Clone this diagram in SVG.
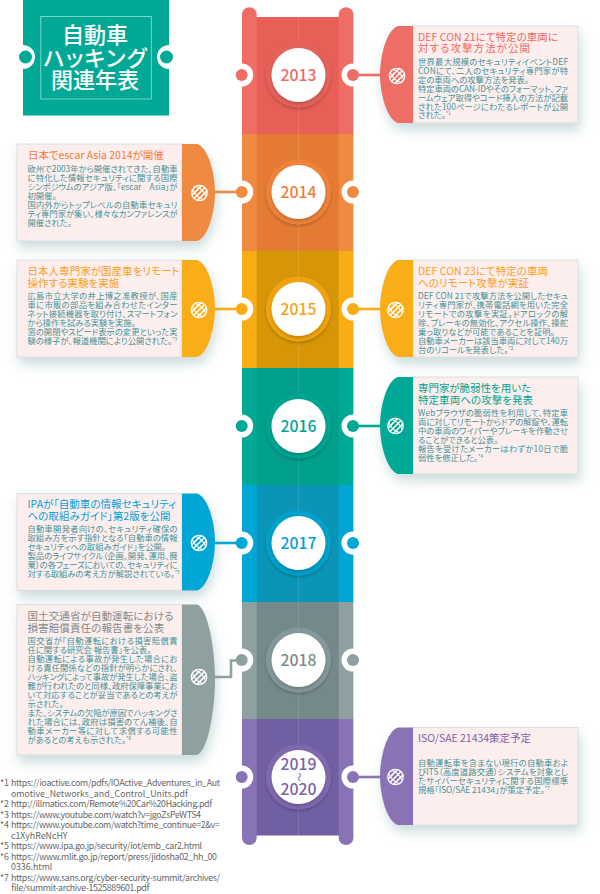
<svg xmlns="http://www.w3.org/2000/svg" xmlns:xlink="http://www.w3.org/1999/xlink" width="600" height="894" viewBox="0 0 600 894">
<style>
text{font-family:"Noto Sans CJK JP","Noto Sans",sans-serif;font-feature-settings:"palt"}
.h{font-size:10.5px}
.b{font-size:8.3px;fill:#3f9397}
.f{font-size:8.8px;fill:#666}
.y{font-size:15.8px;font-weight:500;text-anchor:middle}
.t{font-size:22px;font-weight:500;fill:#fff;text-anchor:middle}
.card{fill:#fdeeee;stroke:#d3dbdb;stroke-width:.8}
.sup{font-size:5px}
.k{fill:#fff}
.c{fill:none;stroke-width:2.6}
.red{fill:#ee6e66}.ors{fill:#f08a40}.amb{fill:#f9ad14}.tea{fill:#00a995}.blu{fill:#00a7d6}.gry{fill:#8ea09f}.pur{fill:#8a73b5}
.tred{fill:#ef6a62}.tors{fill:#f27c3a}.tamb{fill:#f9a01b}.ttea{fill:#00a58f}.tblu{fill:#00a0d8}.tgry{fill:#7f8a8a}.tpur{fill:#7a62a8}
</style>
<defs>
<filter id="sh" x="-20%" y="-20%" width="140%" height="150%"><feDropShadow dx="2" dy="7" stdDeviation="6" flood-color="#6f9c9c" flood-opacity=".35"/></filter>
<filter id="rs" x="-20%" y="-20%" width="140%" height="140%"><feDropShadow dx="0" dy="2" stdDeviation="1.500" flood-color="#000" flood-opacity=".2"/></filter>
<clipPath id="gc"><circle r="8.200"/></clipPath>
<g id="globe" fill="none" stroke="#fff">
<circle r="7.700" stroke-width="1.300"/>
<g clip-path="url(#gc)" transform="rotate(-45)" stroke-width="1">
<ellipse rx="3.800" ry="8.200"/>
<path d="M-8.200-3.800H8.200M-8.200 0H8.200M-8.200 3.800H8.200" stroke-width="1.600"/>
</g>
</g>
</defs>

<g id="column">
<rect x="256" y="17" width="84" height="117" fill="#e75f56"/>
<rect x="256" y="134" width="84" height="117" fill="#e57a33"/>
<rect x="256" y="251" width="84" height="117" fill="#d69608"/>
<rect x="256" y="368" width="84" height="117" fill="#00a08d"/>
<rect x="256" y="485" width="84" height="117" fill="#0a95b8"/>
<rect x="256" y="602" width="84" height="117" fill="#76898a"/>
<rect x="256" y="719" width="84" height="116.500" fill="#7060a3"/>
<path d="M298.500 17V835.500" stroke="#fff" stroke-opacity=".12" stroke-width="1"/>
<path d="M242 134V14.500a7.300 7.300 0 0 1 14.700 0V134Z" class="red"/>
<path d="M338.700 134V14.500a7.300 7.300 0 0 1 14.700 0V134Z" class="red"/>
<rect x="242" y="134" width="14.700" height="117" class="ors"/><rect x="338.700" y="134" width="14.700" height="117" class="ors"/>
<rect x="242" y="251" width="14.700" height="117" class="amb"/><rect x="338.700" y="251" width="14.700" height="117" class="amb"/>
<rect x="242" y="368" width="14.700" height="117" class="tea"/><rect x="338.700" y="368" width="14.700" height="117" class="tea"/>
<rect x="242" y="485" width="14.700" height="117" class="blu"/><rect x="338.700" y="485" width="14.700" height="117" class="blu"/>
<rect x="242" y="602" width="14.700" height="117" class="gry"/><rect x="338.700" y="602" width="14.700" height="117" class="gry"/>
<path d="M242 719V837.700a7.300 7.300 0 0 0 14.700 0V719Z" class="pur"/>
<path d="M338.700 719V837.700a7.300 7.300 0 0 0 14.700 0V719Z" class="pur"/>
</g>

<g id="title">
<rect x="23" y="0" width="146" height="115.500" fill="#00a896"/>
<rect x="40.800" y="16.500" width="110.500" height="82.500" fill="none" stroke="#fff" stroke-opacity=".55" stroke-width=".9"/>
<circle cx="23" cy="57" r="12" class="k"/><circle cx="25.500" cy="57" r="6.500" class="tea"/>
<circle cx="169" cy="57" r="12" class="k"/><circle cx="166.500" cy="57" r="6.500" class="tea"/>
<text class="t" x="95" y="43">自動車</text>
<text class="t" x="95" y="65.500" textLength="103" lengthAdjust="spacing">ハッキング</text>
<text class="t" x="95" y="88">関連年表</text>
</g>

<g id="y2013"><circle cx="241.700" cy="75" r="11.500" class="k"/><circle cx="241.700" cy="75" r="6" class="red"/><circle cx="353" cy="75" r="11.500" class="k"/><circle cx="353" cy="75" r="6" class="red"/><circle cx="298.500" cy="75" r="32.500" fill="#e4625b" filter="url(#rs)"/><circle cx="298.500" cy="75" r="27" class="k" filter="url(#rs)"/><text class="y tred" x="298.500" y="81">2013</text></g>
<g id="y2014"><circle cx="241.700" cy="192" r="11.500" class="k"/><circle cx="241.700" cy="192" r="6" class="ors"/><circle cx="353" cy="192" r="11.500" class="k"/><circle cx="353" cy="192" r="6" class="ors"/><circle cx="298.500" cy="192" r="32.500" fill="#ec8338" filter="url(#rs)"/><circle cx="298.500" cy="192" r="27" class="k" filter="url(#rs)"/><text class="y tors" x="298.500" y="198">2014</text></g>
<g id="y2015"><circle cx="241.700" cy="309" r="11.500" class="k"/><circle cx="241.700" cy="309" r="6" class="amb"/><circle cx="353" cy="309" r="11.500" class="k"/><circle cx="353" cy="309" r="6" class="amb"/><circle cx="298.500" cy="309" r="32.500" fill="#efa310" filter="url(#rs)"/><circle cx="298.500" cy="309" r="27" class="k" filter="url(#rs)"/><text class="y tamb" x="298.500" y="315">2015</text></g>
<g id="y2016"><circle cx="241.700" cy="426" r="11.500" class="k"/><circle cx="241.700" cy="426" r="6" class="tea"/><circle cx="353" cy="426" r="11.500" class="k"/><circle cx="353" cy="426" r="6" class="tea"/><circle cx="298.500" cy="426" r="32.500" fill="#00a592" filter="url(#rs)"/><circle cx="298.500" cy="426" r="27" class="k" filter="url(#rs)"/><text class="y ttea" x="298.500" y="432">2016</text></g>
<g id="y2017"><circle cx="241.700" cy="543" r="11.500" class="k"/><circle cx="241.700" cy="543" r="6" class="blu"/><circle cx="353" cy="543" r="11.500" class="k"/><circle cx="353" cy="543" r="6" class="blu"/><circle cx="298.500" cy="543" r="32.500" fill="#03a1cb" filter="url(#rs)"/><circle cx="298.500" cy="543" r="27" class="k" filter="url(#rs)"/><text class="y tblu" x="298.500" y="549">2017</text></g>
<g id="y2018"><circle cx="241.700" cy="660" r="11.500" class="k"/><circle cx="241.700" cy="660" r="6" class="gry"/><circle cx="353" cy="660" r="11.500" class="k"/><circle cx="353" cy="660" r="6" class="gry"/><circle cx="298.500" cy="660" r="32.500" fill="#84979a" filter="url(#rs)"/><circle cx="298.500" cy="660" r="27" class="k" filter="url(#rs)"/><text class="y tgry" x="298.500" y="666">2018</text></g>
<g id="y2019"><circle cx="241.700" cy="777" r="11.500" class="k"/><circle cx="241.700" cy="777" r="6" class="pur"/><circle cx="353" cy="777" r="11.500" class="k"/><circle cx="353" cy="777" r="6" class="pur"/><circle cx="298.500" cy="777" r="32.500" fill="#8068ad" filter="url(#rs)"/><circle cx="298.500" cy="777" r="27" class="k" filter="url(#rs)"/><text class="y tpur" x="298.500" y="769.500">2019</text><text class="y tpur" x="298.500" y="780" transform="rotate(90 298.500 777)" style="font-size:8.500px">〜</text><text class="y tpur" x="298.500" y="795">2020</text></g>

<g id="connectors">
<path class="c" stroke="#ee6e66" d="M353 75H382"/>
<path class="c" stroke="#f08a40" d="M213 192H242"/>
<path class="c" stroke="#f9ad14" d="M213 309H242"/>
<path class="c" stroke="#f9ad14" d="M353 309H382"/>
<path class="c" stroke="#00a995" d="M353 426H382"/>
<path class="c" stroke="#00a7d6" d="M213 543H242"/>
<path class="c" stroke="#8ea09f" d="M213 677H231V660.500H242"/>
<path class="c" stroke="#8a73b5" d="M353 777H382"/>
</g>

<g id="card2013">
<g filter="url(#sh)"><rect class="card" x="413" y="26" width="165" height="97"/><path class="red" d="M413 26H398C387 29 380 55 380 74.500C380 94 387 120 398 123H413Z"/></g>
<use xlink:href="#globe" href="#globe" x="397" y="76"/>
<text class="h tred" x="418" y="41" textLength="140">DEF CON 21にて特定の車両に</text>
<text class="h tred" x="418" y="52" textLength="112">対する攻撃方法が公開</text>
<text class="b" x="418" y="65" textLength="150">世界最大規模のセキュリティイベントDEF</text>
<text class="b" x="418" y="73.900" textLength="150">CONにて、二人のセキュリティ専門家が特</text>
<text class="b" x="418" y="82.800">定の車両への攻撃方法を発表。</text>
<text class="b" x="418" y="91.700" textLength="150">特定車両のCAN-IDやそのフォーマット、ファ</text>
<text class="b" x="418" y="100.600" textLength="150">ームウェア取得やコード挿入の方法が記載</text>
<text class="b" x="418" y="109.500" textLength="150">された100ページにわたるレポートが公開</text>
<text class="b" x="418" y="118.400">された。<tspan class="sup" dy="-3">*1</tspan></text>
</g>

<g id="card2014">
<g filter="url(#sh)"><rect class="card" x="17" y="144" width="165" height="97"/><path class="ors" d="M182 144H197C208 147 215 173 215 192.500C215 212 208 238 197 241H182Z"/></g>
<use xlink:href="#globe" href="#globe" x="199.500" y="193"/>
<text class="h tors" x="28" y="159" textLength="135.700">日本でescar Asia 2014が開催</text>
<text class="b" x="27.500" y="171.500" textLength="150">欧州で2003年から開催されてきた、自動車</text>
<text class="b" x="27.500" y="180.500" textLength="150">に特化した情報セキュリティに関する国際</text>
<text class="b" x="27.500" y="189.500" textLength="150">シンポジウムのアジア版、「escar　Asia」が</text>
<text class="b" x="27.500" y="198.500">初開催。</text>
<text class="b" x="27.500" y="207.500" textLength="150">国内外からトップレベルの自動車セキュリ</text>
<text class="b" x="27.500" y="216.500" textLength="150">ティ専門家が集い、様々なカンファレンスが</text>
<text class="b" x="27.500" y="225.500">開催された。</text>
</g>

<g id="card2015a">
<g filter="url(#sh)"><rect class="card" x="17" y="260" width="165" height="97"/><path class="amb" d="M182 260H197C208 263 215 289 215 308.500C215 328 208 354 197 357H182Z"/></g>
<use xlink:href="#globe" href="#globe" x="199" y="310"/>
<text class="h tamb" x="27.500" y="275" textLength="152">日本人専門家が国産車をリモート</text>
<text class="h tamb" x="27.500" y="286.500" textLength="91.700">操作する実験を実施</text>
<text class="b" x="27.500" y="299" textLength="150">広島市立大学の井上博之准教授が、国産</text>
<text class="b" x="27.500" y="308" textLength="150">車に市販の部品を組み合わせたインター</text>
<text class="b" x="27.500" y="317" textLength="150">ネット接続機器を取り付け、スマートフォン</text>
<text class="b" x="27.500" y="326">から操作を試みる実験を実施。</text>
<text class="b" x="27.500" y="335" textLength="150">窓の開閉やスピード表示の変更といった実</text>
<text class="b" x="27.500" y="344">験の様子が、報道機関により公開された。<tspan class="sup" dy="-3">*3</tspan></text>
</g>

<g id="card2015b">
<g filter="url(#sh)"><rect class="card" x="413" y="260" width="165" height="97"/><path class="amb" d="M413 260H398C387 263 380 289 380 308.500C380 328 387 354 398 357H413Z"/></g>
<use xlink:href="#globe" href="#globe" x="395.500" y="310"/>
<text class="h tamb" x="418" y="275" textLength="130">DEF CON 23にて特定の車両</text>
<text class="h tamb" x="418" y="286.500" textLength="111">へのリモート攻撃が実証</text>
<text class="b" x="418" y="299" textLength="150">DEF CON 21で攻撃方法を公開したセキュ</text>
<text class="b" x="418" y="308" textLength="150">リティ専門家が、携帯電話網を用いた完全</text>
<text class="b" x="418" y="317" textLength="150">リモートでの攻撃を実証。ドアロックの解</text>
<text class="b" x="418" y="326" textLength="150">除、ブレーキの無効化、アクセル操作、操舵</text>
<text class="b" x="418" y="335">乗っ取りなどが可能であることを証明。</text>
<text class="b" x="418" y="344" textLength="150">自動車メーカーは該当車両に対して140万</text>
<text class="b" x="418" y="353">台のリコールを発表した。<tspan class="sup" dy="-3">*2</tspan></text>
</g>

<g id="card2016">
<g filter="url(#sh)"><rect class="card" x="413" y="377" width="165" height="97"/><path class="tea" d="M413 377H398C387 380 380 406 380 425.500C380 445 387 471 398 474H413Z"/></g>
<use xlink:href="#globe" href="#globe" x="395.500" y="426"/>
<text class="h ttea" x="418" y="392" textLength="113">専門家が脆弱性を用いた</text>
<text class="h ttea" x="418" y="403.500" textLength="115">特定車両への攻撃を発表</text>
<text class="b" x="418" y="416" textLength="150">Webブラウザの脆弱性を利用して、特定車</text>
<text class="b" x="418" y="425" textLength="150">両に対してリモートからドアの解錠や、運転</text>
<text class="b" x="418" y="434" textLength="150">中の車両のワイパーやブレーキを作動させ</text>
<text class="b" x="418" y="443">ることができると公表。</text>
<text class="b" x="418" y="452" textLength="150">報告を受けたメーカーはわずか10日で脆</text>
<text class="b" x="418" y="461">弱性を修正した。<tspan class="sup" dy="-3">*4</tspan></text>
</g>

<g id="card2017">
<g filter="url(#sh)"><rect class="card" x="17" y="493.500" width="165" height="97"/><path class="blu" d="M182 493.500H197C208 496.500 215 522.500 215 542C215 561.500 208 587.500 197 590.500H182Z"/></g>
<use xlink:href="#globe" href="#globe" x="199" y="543"/>
<text class="h tblu" x="27.500" y="508" textLength="148.700">IPAが「自動車の情報セキュリティ</text>
<text class="h tblu" x="27.500" y="519.500" textLength="143">への取組みガイド」第2版を公開</text>
<text class="b" x="27.500" y="532" textLength="150">自動車開発者向けの、セキュリティ確保の</text>
<text class="b" x="27.500" y="541" textLength="150">取組み方を示す指針となる「自動車の情報</text>
<text class="b" x="27.500" y="550">セキュリティへの取組みガイド」を公開。</text>
<text class="b" x="27.500" y="559" textLength="150">製品のライフサイクル（企画、開発、運用、廃</text>
<text class="b" x="27.500" y="568" textLength="150">棄）の各フェーズにおいての、セキュリティに</text>
<text class="b" x="27.500" y="577">対する取組みの考え方が解説されている。<tspan class="sup" dy="-3">*5</tspan></text>
</g>

<g id="card2018">
<g filter="url(#sh)"><rect class="card" x="17" y="604.500" width="165" height="150.500"/><path class="gry" d="M182 604.500H197C208 608 215 650 215 679.500C215 709 208 751 197 755H182Z"/></g>
<use xlink:href="#globe" href="#globe" x="199" y="677"/>
<text class="h tgry" x="27.500" y="620" textLength="146">国土交通省が自動運転における</text>
<text class="h tgry" x="27.500" y="632" textLength="136.700">損害賠償責任の報告書を公表</text>
<text class="b" x="27.500" y="643.500" textLength="150">国交省が「自動運転における損害賠償責</text>
<text class="b" x="27.500" y="652.500">任に関する研究会 報告書」を公表。</text>
<text class="b" x="27.500" y="661.500" textLength="150">自動運転による事故が発生した場合にお</text>
<text class="b" x="27.500" y="670.500" textLength="150">ける責任関係などの指針が明らかにされ、</text>
<text class="b" x="27.500" y="679.500" textLength="150">ハッキングによって事故が発生した場合、盗</text>
<text class="b" x="27.500" y="688.500" textLength="150">難が行われたのと同様、政府保障事業にお</text>
<text class="b" x="27.500" y="697.500" textLength="150">いて対応することが妥当であるとの考えが</text>
<text class="b" x="27.500" y="706.500">示された。</text>
<text class="b" x="27.500" y="715.500" textLength="150">また、システムの欠陥が原因でハッキングさ</text>
<text class="b" x="27.500" y="724.500" textLength="150">れた場合には、政府は損害のてん補後、自</text>
<text class="b" x="27.500" y="733.500" textLength="150">動車メーカー等に対して求償する可能性</text>
<text class="b" x="27.500" y="742.500">があるとの考えも示された。<tspan class="sup" dy="-3">*6</tspan></text>
</g>

<g id="card2019">
<g filter="url(#sh)"><rect class="card" x="413" y="727.500" width="165" height="97.500"/><path class="pur" d="M413 727.500H398C387 730.500 380 757 380 776C380 796 387 822 398 825H413Z"/></g>
<use xlink:href="#globe" href="#globe" x="395.500" y="777"/>
<text class="h tpur" x="418" y="742" textLength="113">ISO/SAE 21434策定予定</text>
<text class="b" x="418" y="766" textLength="150">自動運転車を含まない現行の自動車およ</text>
<text class="b" x="418" y="775" textLength="150">びITS（高度道路交通）システムを対象とし</text>
<text class="b" x="418" y="784" textLength="150">たサイバーセキュリティに関する国際標準</text>
<text class="b" x="418" y="793">規格「ISO/SAE 21434」が策定予定。<tspan class="sup" dy="-3">*7</tspan></text>
</g>

<g id="footnotes">
<text class="f" x="0" y="786">*1</text><text class="f" x="11" y="786" textLength="209">https://ioactive.com/pdfs/IOActive_Adventures_in_Aut</text>
<text class="f" x="11" y="796.500">omotive_Networks_and_Control_Units.pdf</text>
<text class="f" x="0" y="807">*2</text><text class="f" x="11" y="807" textLength="201">http://illmatics.com/Remote%20Car%20Hacking.pdf</text>
<text class="f" x="0" y="817.500">*3</text><text class="f" x="11" y="817.500" textLength="190">https://www.youtube.com/watch?v=jgoZsPeWTS4</text>
<text class="f" x="0" y="828">*4</text><text class="f" x="11" y="828" textLength="209">https://www.youtube.com/watch?time_continue=2&amp;v=</text>
<text class="f" x="11" y="838.500">c1XyhReNcHY</text>
<text class="f" x="0" y="849">*5</text><text class="f" x="11" y="849" textLength="191">https://www.ipa.go.jp/security/iot/emb_car2.html</text>
<text class="f" x="0" y="859.500">*6</text><text class="f" x="11" y="859.500" textLength="206">https://www.mlit.go.jp/report/press/jidosha02_hh_00</text>
<text class="f" x="11" y="870">0336.html</text>
<text class="f" x="0" y="880.500">*7</text><text class="f" x="11" y="880.500" textLength="209">https://www.sans.org/cyber-security-summit/archives/</text>
<text class="f" x="11" y="891" textLength="138">file/summit-archive-1525889601.pdf</text>
</g>
</svg>
